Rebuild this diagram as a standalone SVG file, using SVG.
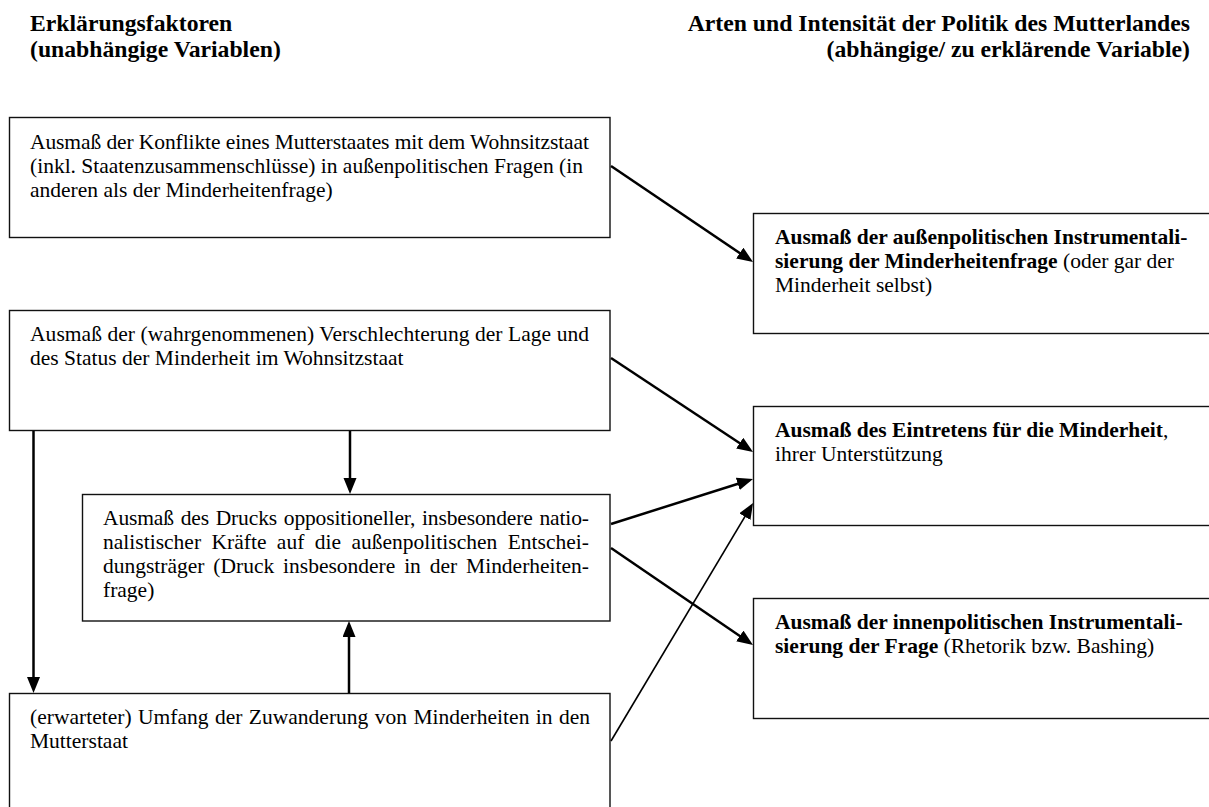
<svg xmlns="http://www.w3.org/2000/svg" width="1209" height="807" viewBox="0 0 1209 807">
<style>
.box{fill:#fff;stroke:#111;stroke-width:1.4}
.t{font-family:"Liberation Serif","Times New Roman",serif;font-size:21.5px;fill:#000}
.b{font-weight:bold}
.h{font-family:"Liberation Serif","Times New Roman",serif;font-size:23.7px;font-weight:bold;fill:#000}
.c{fill:none;stroke:#000;stroke-width:2.5}
.thin{stroke-width:1.6}
</style>
<defs>
<marker id="ah" markerUnits="userSpaceOnUse" markerWidth="17" markerHeight="14" refX="12" refY="6.5" orient="auto">
<path d="M0,0 L16,6.5 L0,13 z" fill="#000"/>
</marker>
</defs>
<rect width="1209" height="807" fill="#fff"/>
<g id="header-left">
<text class="h" x="30" y="31">Erklärungsfaktoren</text>
<text class="h" x="30" y="57">(unabhängige Variablen)</text>
</g>
<g id="header-right">
<text class="h" x="1190" y="31" text-anchor="end">Arten und Intensität der Politik des Mutterlandes</text>
<text class="h" x="1190" y="57" text-anchor="end">(abhängige/ zu erklärende Variable)</text>
</g>
<g id="n1">
<rect class="box" x="9.5" y="117.5" width="600.5" height="120"/>
<text class="t" x="30" y="149" textLength="559" lengthAdjust="spacing">Ausmaß der Konflikte eines Mutterstaates mit dem Wohnsitzstaat</text>
<text class="t" x="30" y="173">(inkl. Staatenzusammenschlüsse) in außenpolitischen Fragen (in</text>
<text class="t" x="30" y="197">anderen als der Minderheitenfrage)</text>
</g>
<g id="n2">
<rect class="box" x="9.5" y="310.5" width="600.5" height="120"/>
<text class="t" x="30" y="341" textLength="559" lengthAdjust="spacing">Ausmaß der (wahrgenommenen) Verschlechterung der Lage und</text>
<text class="t" x="30" y="365">des Status der Minderheit im Wohnsitzstaat</text>
</g>
<g id="n3">
<rect class="box" x="82.5" y="494.5" width="527.5" height="126.5"/>
<text class="t" x="103" y="525" word-spacing="1.5" textLength="486" lengthAdjust="spacing">Ausmaß des Drucks oppositioneller, insbesondere natio-</text>
<text class="t" x="103" y="549" word-spacing="5" textLength="486" lengthAdjust="spacing">nalistischer Kräfte auf die außenpolitischen Entschei-</text>
<text class="t" x="103" y="573" word-spacing="3.5" textLength="486" lengthAdjust="spacing">dungsträger (Druck insbesondere in der Minderheiten-</text>
<text class="t" x="103" y="597">frage)</text>
</g>
<g id="n4">
<rect class="box" x="9.5" y="693.5" width="600.5" height="130"/>
<text class="t" x="30" y="724" word-spacing="1" textLength="560" lengthAdjust="spacing">(erwarteter) Umfang der Zuwanderung von Minderheiten in den</text>
<text class="t" x="30" y="748">Mutterstaat</text>
</g>
<g id="nA">
<rect class="box" x="753.5" y="213.5" width="470" height="120"/>
<text class="t b" x="775" y="244">Ausmaß der außenpolitischen Instrumentali-</text>
<text class="t" x="775" y="268"><tspan class="b">sierung der Minderheitenfrage</tspan> (oder gar der</text>
<text class="t" x="775" y="292">Minderheit selbst)</text>
</g>
<g id="nB">
<rect class="box" x="753.5" y="406.5" width="470" height="119"/>
<text class="t" x="775" y="437"><tspan class="b">Ausmaß des Eintretens für die Minderheit</tspan>,</text>
<text class="t" x="775" y="461">ihrer Unterstützung</text>
</g>
<g id="nC">
<rect class="box" x="753.5" y="598.5" width="470" height="120"/>
<text class="t b" x="775" y="629">Ausmaß der innenpolitischen Instrumentali-</text>
<text class="t" x="775" y="653"><tspan class="b">sierung der Frage</tspan> (Rhetorik bzw. Bashing)</text>
</g>
<g id="connectors">
<line class="c" x1="611" y1="166" x2="749.7" y2="259.8" marker-end="url(#ah)"/>
<line class="c" x1="611" y1="358" x2="749.7" y2="449.8" marker-end="url(#ah)"/>
<line class="c" x1="611" y1="524" x2="749.2" y2="480.2" marker-end="url(#ah)"/>
<line class="c" x1="611" y1="548" x2="749.7" y2="642.7" marker-end="url(#ah)"/>
<line class="c thin" x1="611" y1="741" x2="751" y2="506.4" marker-end="url(#ah)"/>
<line class="c" x1="350" y1="431" x2="350" y2="490" marker-end="url(#ah)"/>
<line class="c" x1="33.5" y1="431" x2="33.5" y2="689" marker-end="url(#ah)"/>
<line class="c" x1="349" y1="693" x2="349" y2="625" marker-end="url(#ah)"/>
</g>
</svg>
